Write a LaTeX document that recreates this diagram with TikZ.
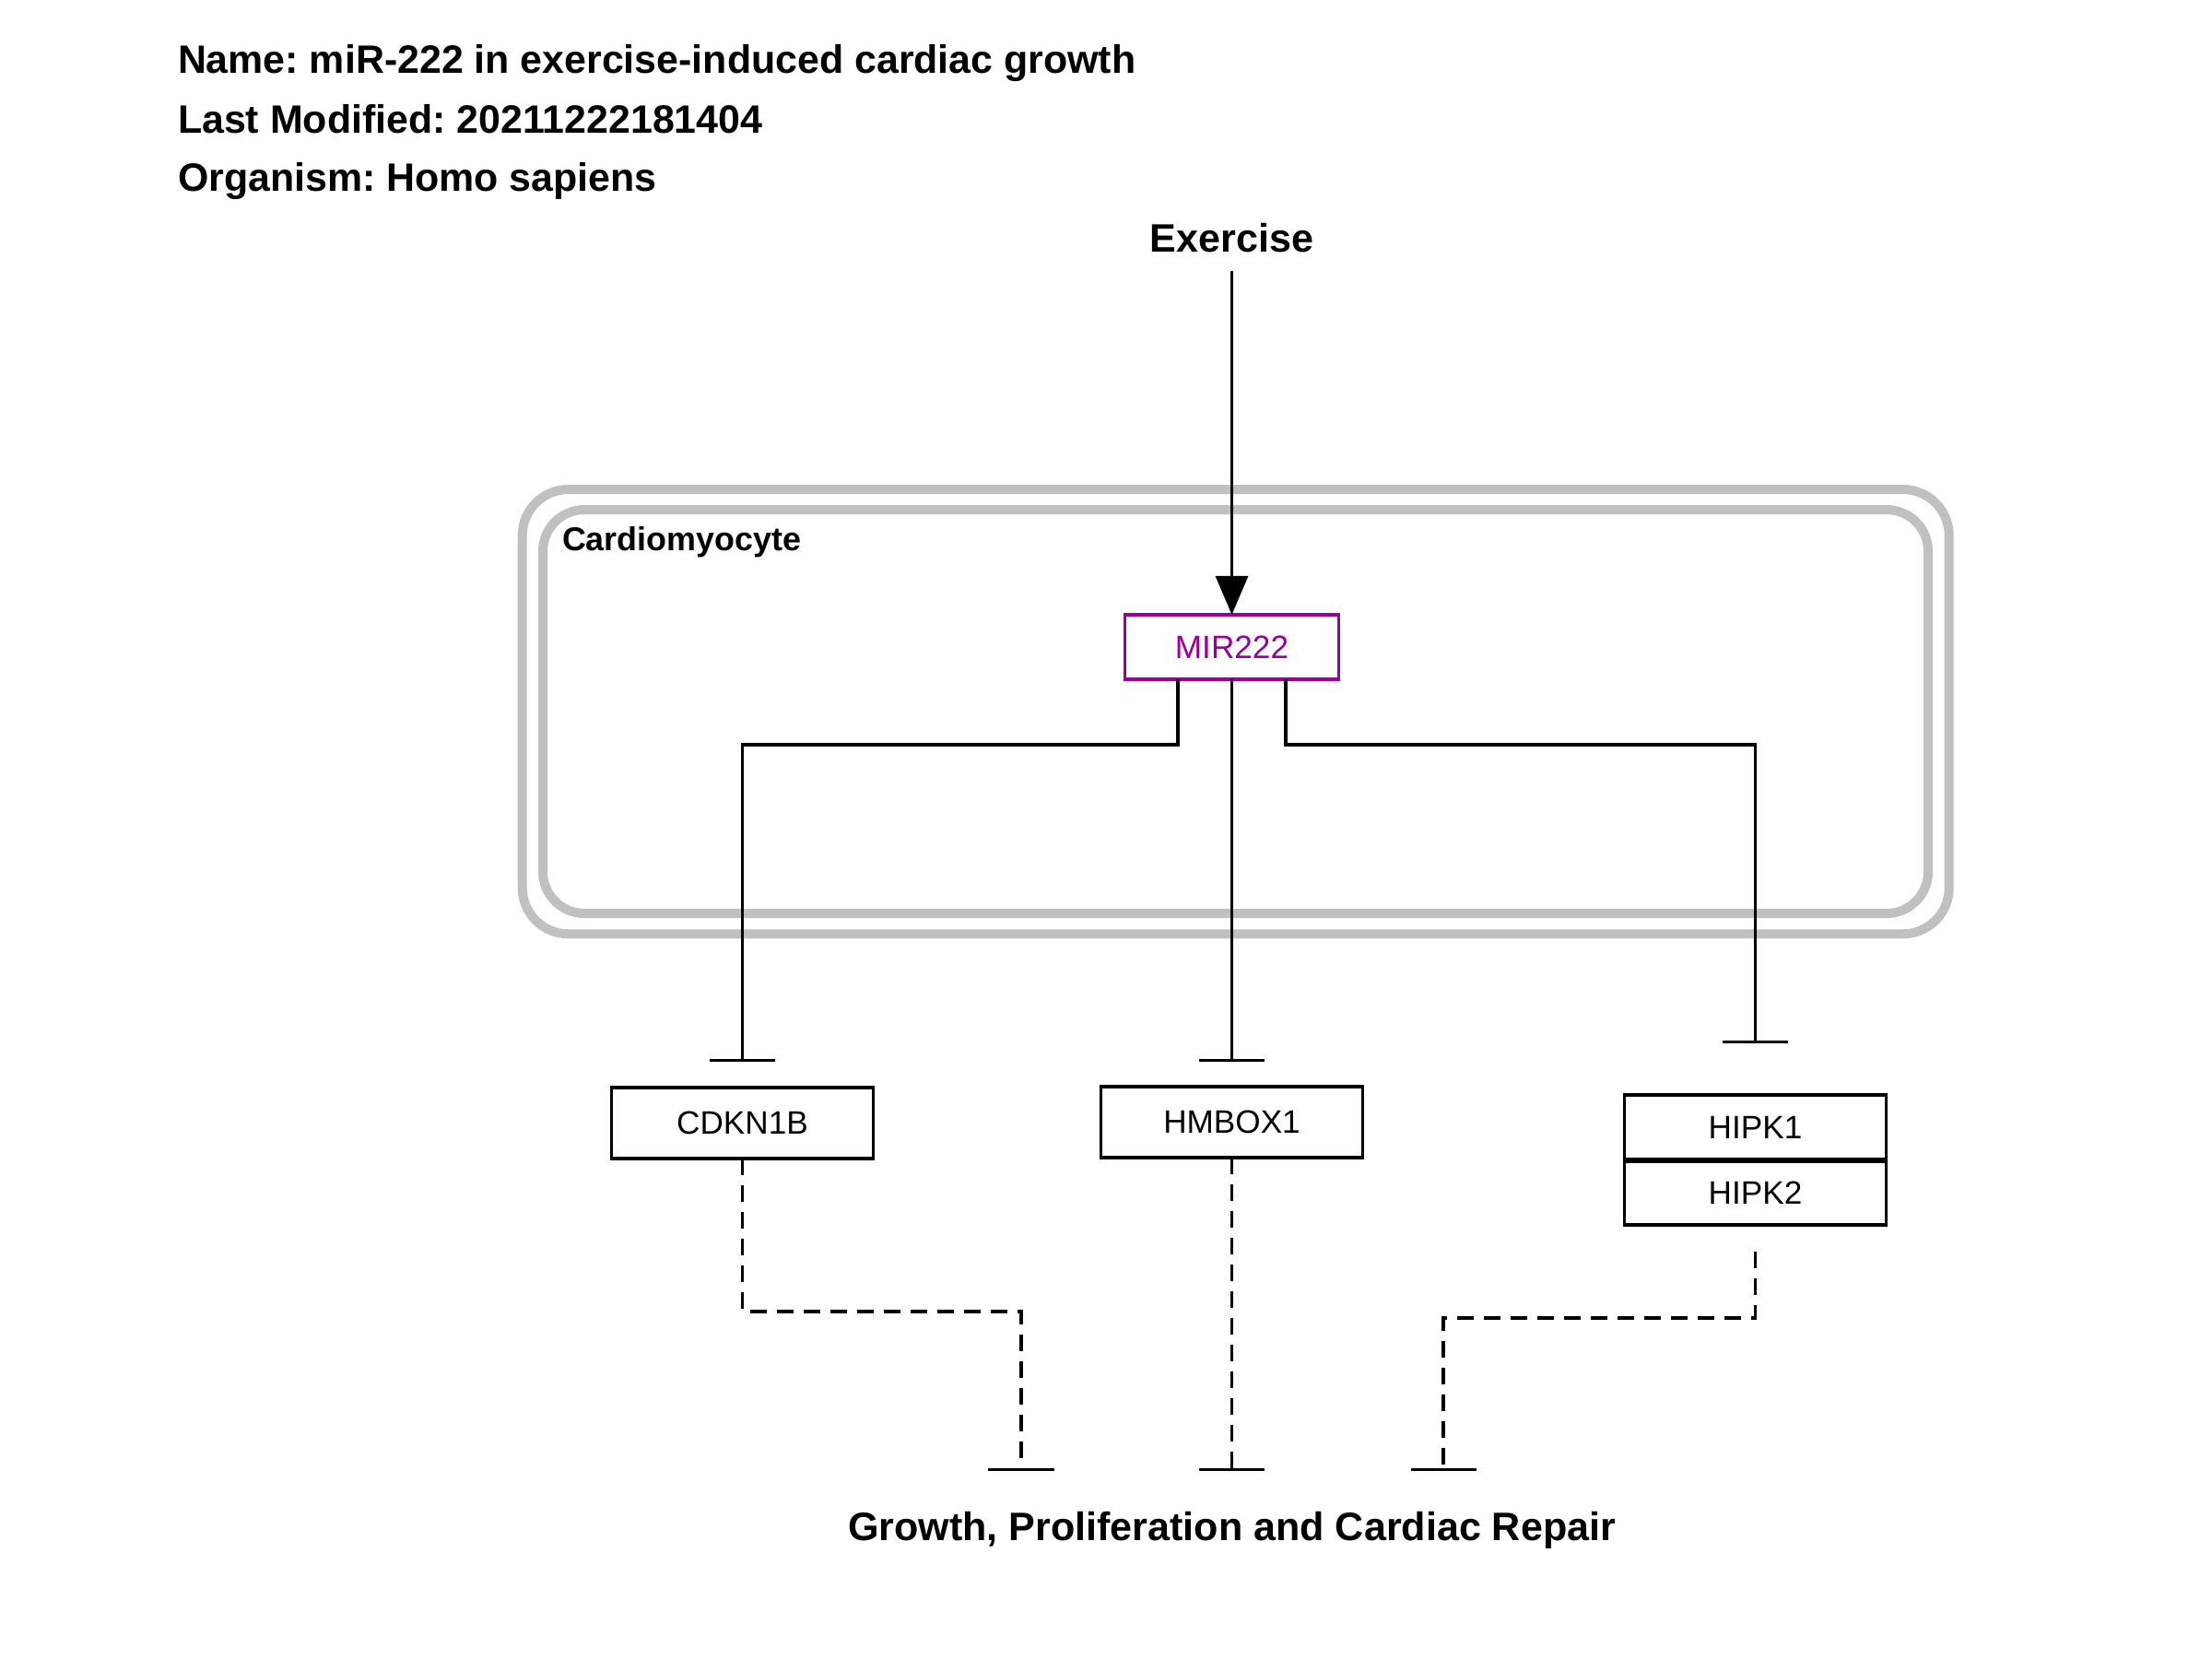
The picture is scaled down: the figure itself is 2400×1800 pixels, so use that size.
\documentclass[tikz,border=0pt]{standalone}
\usepackage{fontspec}
\setmainfont{Liberation Sans}
\usetikzlibrary{arrows.meta,calc}
\definecolor{mirpurple}{HTML}{990099}
\definecolor{cellgray}{HTML}{C0C0C0}
\frenchspacing

\begin{document}
\begin{tikzpicture}[x=0.01cm,y=-0.01cm,
  every node/.style={inner sep=0pt, outer sep=0pt},
  headline/.style={anchor=base west, font=\fontsize{12.2}{14}\selectfont\bfseries},
  bigtext/.style={font=\fontsize{12.25}{14}\selectfont\bfseries},
  celllabel/.style={anchor=base west, font=\fontsize{10.2}{12}\selectfont\bfseries},
  genebox/.style={draw=black, line width=0.9pt, font=\fontsize{10}{12}\selectfont,
    minimum width=2.84cm, minimum height=0.77cm},
  mirbox/.style={draw=mirpurple, text=mirpurple, line width=0.9pt,
    font=\fontsize{10}{12}\selectfont, minimum width=2.32cm, minimum height=0.70cm},
  membrane/.style={draw=cellgray, line width=0.1cm},
  activation/.style={line width=0.9pt, -{Triangle[length=0.42cm, width=0.35cm]}},
  inhibition/.style={line width=0.9pt, -{Bar[width=0.71cm]}},
  dashinhibition/.style={inhibition, dash pattern=on 0.18cm off 0.11cm},
]
% page frame
\useasboundingbox (0,0) rectangle (2400,1800);

% header
\node[headline] (hname) at (193,80) {Name: miR-222 in exercise-induced cardiac growth};
\node[headline] (hdate) at (193,144.5) {Last Modified: 20211222181404};
\node[headline] (horg)  at (193,208) {Organism: Homo sapiens};

% cell compartment (double membrane)
\draw[membrane, rounded corners=0.5cm] (566.7,531) rectangle (2114.7,1013.3);
\draw[membrane, rounded corners=0.45cm] (589,553) rectangle (2092,991);
\node[celllabel] (cell) at (610,597) {Cardiomyocyte};

% nodes
\node[bigtext, anchor=base] (exercise) at (1336.5,273.5) {Exercise};
\node[mirbox] (mir) at (1336.5,702) {MIR222};
\node[genebox] (cdkn) at (805.5,1218.5) {CDKN1B};
\node[genebox] (hmbox) at (1336.5,1217.5) {HMBOX1};
\node[genebox, minimum height=0.70cm] (hipk1) at (1904.5,1223) {HIPK1};
\node[genebox, minimum height=0.69cm] (hipk2) at (1904.5,1294.5) {HIPK2};
\node[bigtext, anchor=base] (growth) at (1336.5,1671) {Growth, Proliferation and Cardiac Repair};

% end points of the inhibitions on the outcome
\coordinate (g1) at (1108,1596);
\coordinate (g2) at (1336.5,1596);
\coordinate (g3) at (1566,1596);

% exercise induces miR-222
\draw[activation, shorten <=0.2cm] (exercise.south) -- (mir.north);

% miR-222 represses its targets
\draw[inhibition, shorten >=0.275cm] ([xshift=-0.585cm]mir.south) -- ++(0,71) -| (cdkn.north);
\draw[inhibition, shorten >=0.265cm] (mir.south) -- (hmbox.north);
\draw[inhibition, shorten >=0.56cm] ([xshift=0.585cm]mir.south) -- ++(0,71) -| (hipk1.north);

% targets restrain growth
\draw[dashinhibition] (cdkn.south) -- ++(0,166) -| (g1);
\draw[dashinhibition] (hmbox.south) -- (g2);
\draw[dashinhibition, shorten <=0.29cm] (hipk2.south) -- ++(0,101) -| (g3);
\end{tikzpicture}
\end{document}
